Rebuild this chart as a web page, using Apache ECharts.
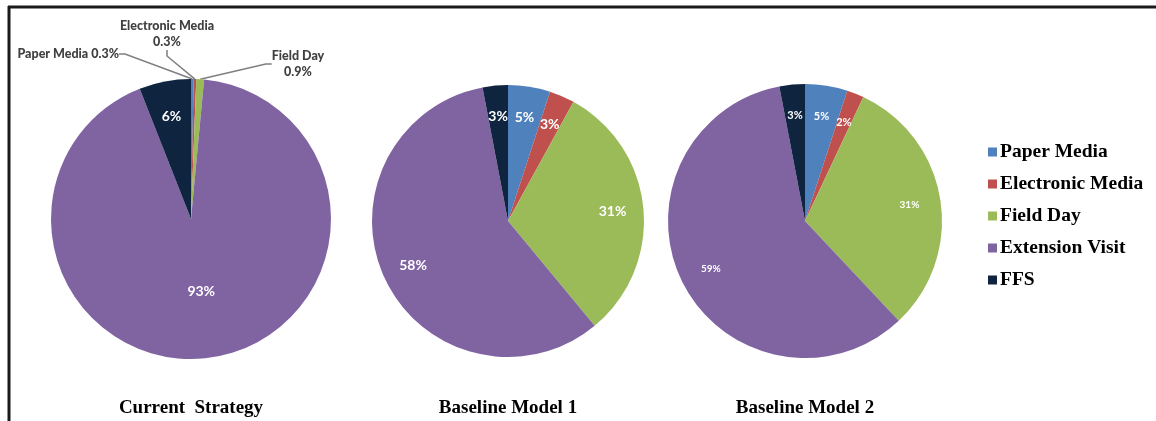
<!DOCTYPE html>
<html>
<head>
<meta charset="utf-8">
<script src="https://cdn.jsdelivr.net/npm/echarts@6/dist/echarts.min.js"></script>
<style>
html,body{margin:0;padding:0;background:#fff;}
#chart{width:1156px;height:421px;}
</style>
</head>
<body>
<div id="chart"></div>
<script>
const categories = ['Paper Media', 'Electronic Media', 'Field Day', 'Extension Visit', 'FFS'];
const colors = ['#4F81BD', '#C0504D', '#9BBB59', '#8064A2', '#0F243E'];
const currentStrategy = [0.3, 0.3, 0.9, 93, 6];
const baselineModel1 = [5, 3, 31, 58, 3];
const baselineModel2 = [5, 2, 31, 59, 3];
const pieTitles = ['Current  Strategy', 'Baseline Model 1', 'Baseline Model 2'];

const pies = [
  {center: [191, 219], r: 140, values: currentStrategy},
  {center: [508, 221], r: 136, values: baselineModel1},
  {center: [805, 221], r: 137, values: baselineModel2}
];

const labelFont = 'Lato, "Open Sans", sans-serif';

function mkData(values, labelFn) {
  return values.map((v, i) => {
    const d = {name: categories[i], value: v, itemStyle: {color: colors[i]}};
    const l = labelFn ? labelFn(i) : null;
    if (l) d.label = l;
    return d;
  });
}

const series = [];

// Pie 1 main: outside labels for small slices, inner label for Extension Visit
series.push({
  type: 'pie', center: pies[0].center, radius: [0, pies[0].r],
  startAngle: 90, clockwise: true, silent: true, animation: false,
  avoidLabelOverlap: false,
  label: {show: false},
  labelLine: {show: false},
  data: mkData(pies[0].values, i => {
    if (i <= 2) {
      return {
        show: true, position: 'outside', color: '#404040', fontFamily: labelFont,
        fontWeight: 900, fontSize: 12.5, lineHeight: 16, align: 'center',
        formatter: i === 0 ? '{b} {c}%' : '{b}\n{c}%'
      };
    }
    if (i === 3) {
      return {show: true, position: 'inside', color: '#fff', fontFamily: labelFont,
        fontWeight: 'bold', fontSize: 14, formatter: '{c}%'};
    }
    return null;
  }).map((d, i) => {
    if (i <= 2) d.labelLine = {show: true, length: i === 1 ? 30 : 1, length2: 6,
      lineStyle: {color: '#7f7f7f', width: 1.5}};
    return d;
  }),
  labelLayout: function (p) {
    const c = pies[0].center;
    if (p.dataIndex === 0) return {x: c[0] - 72, y: c[1] - 165, align: 'right', verticalAlign: 'middle'};
    if (p.dataIndex === 1) return {x: c[0] - 24, y: c[1] - 185, align: 'center', verticalAlign: 'middle'};
    if (p.dataIndex === 2) return {x: c[0] + 107, y: c[1] - 155, align: 'center', verticalAlign: 'middle'};
    return {};
  }
});
// Pie 1 overlay for FFS label
series.push({
  type: 'pie', center: pies[0].center, radius: [pies[0].r * 0.45, pies[0].r],
  startAngle: 90, silent: true, animation: false,
  label: {show: false}, labelLine: {show: false},
  data: mkData(pies[0].values, i => i === 4 ? {show: true, position: 'inside', color: '#fff',
    fontFamily: labelFont, fontWeight: 'bold', fontSize: 14, formatter: '{c}%'} : null)
    .map(d => { d.itemStyle = {color: 'rgba(0,0,0,0)'}; return d; })
});

// Pies 2 & 3
[1, 2].forEach(k => {
  const p = pies[k];
  series.push({
    type: 'pie', center: p.center, radius: [0, p.r],
    startAngle: 90, silent: true, animation: false,
    label: {show: false}, labelLine: {show: false},
    data: mkData(p.values)
  });
  series.push({
    type: 'pie', center: p.center, radius: [p.r * 0.5, p.r],
    startAngle: 90, silent: true, animation: false,
    label: {show: true, position: 'inside', color: '#fff', fontFamily: labelFont,
      fontWeight: 'bold', fontSize: k === 1 ? 14 : 11, formatter: '{c}%'},
    labelLine: {show: false},
    data: mkData(p.values, i => (k === 2 && (i === 2 || i === 3)) ? {fontSize: 10} : null)
      .map(d => { d.itemStyle = {color: 'rgba(0,0,0,0)'}; return d; })
  });
});

const option = {
  backgroundColor: '#fff',
  animation: false,
  title: pieTitles.map((t, i) => ({
    text: t, left: pies[i].center[0], top: 399, textAlign: 'center', padding: 0,
    textStyle: {fontFamily: '"Liberation Serif", "Times New Roman", serif', fontWeight: 'bold',
      fontSize: 19, color: '#000'}
  })),
  legend: {
    orient: 'vertical', left: 983, top: 137, icon: 'rect',
    itemWidth: 9, itemHeight: 9, itemGap: 12,
    data: categories,
    textStyle: {fontFamily: '"Liberation Serif", "Times New Roman", serif', fontWeight: 'bold',
      fontSize: 19.5, color: '#000', padding: [0, 0, 0, -2]}
  },
  graphic: [
    {type: 'line', shape: {x1: 8, y1: 7, x2: 1156, y2: 7}, style: {stroke: '#1a1a1a', lineWidth: 3}},
    {type: 'line', shape: {x1: 9, y1: 6, x2: 9, y2: 421}, style: {stroke: '#1a1a1a', lineWidth: 3}}
  ],
  series: series
};

const chart = echarts.init(document.getElementById('chart'), null, {renderer: 'canvas'});
chart.setOption(option);
</script>
</body>
</html>
